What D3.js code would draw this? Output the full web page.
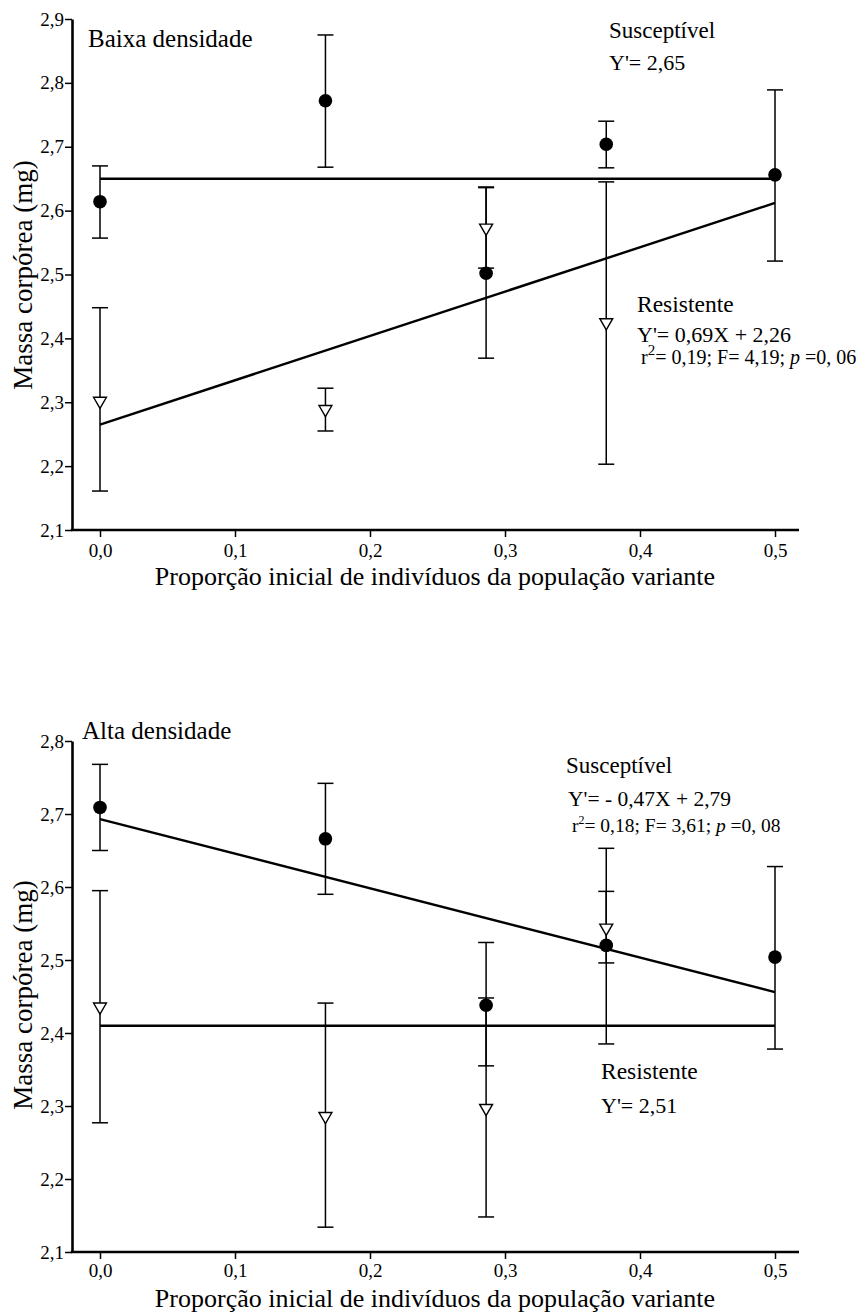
<!DOCTYPE html>
<html><head><meta charset="utf-8">
<script src="https://cdn.jsdelivr.net/npm/d3@7"></script>
<style>
body{margin:0;background:#fff}
svg{display:block}
text{font-family:"Liberation Serif","Times New Roman",serif;fill:#000}
</style>
</head><body>
<svg id="chart" width="865" height="1316" font-family="Liberation Serif"></svg>
<script>
// ---------- data ----------
const xValues = [0, 0.167, 0.286, 0.375, 0.5];
const xTicks = [0, 0.1, 0.2, 0.3, 0.4, 0.5];
const xTickLabels = ["0,0", "0,1", "0,2", "0,3", "0,4", "0,5"];
const xTitle = "Proporção inicial de indivíduos da população variante";
const yTitle = "Massa corpórea (mg)";

// Baixa densidade
const yTicksBaixa = [2.1, 2.2, 2.3, 2.4, 2.5, 2.6, 2.7, 2.8, 2.9];
const yTickLabelsBaixa = ["2,1", "2,2", "2,3", "2,4", "2,5", "2,6", "2,7", "2,8", "2,9"];
const baixaSusMean = [2.614, 2.772, 2.502, 2.704, 2.656];
const baixaSusLow  = [2.557, 2.668, 2.369, 2.667, 2.521];
const baixaSusHigh = [2.670, 2.875, 2.636, 2.740, 2.789];
const baixaResX    = [0, 0.167, 0.286, 0.375];
const baixaResMean = [2.302, 2.289, 2.573, 2.425];
const baixaResLow  = [2.161, 2.255, 2.510, 2.203];
const baixaResHigh = [2.448, 2.322, 2.637, 2.645];
const baixaSusFit  = [2.65, 2.65];     // at x = 0 and 0.5
const baixaResFit  = [2.265, 2.612];

// Alta densidade
const yTicksAlta = [2.1, 2.2, 2.3, 2.4, 2.5, 2.6, 2.7, 2.8];
const yTickLabelsAlta = ["2,1", "2,2", "2,3", "2,4", "2,5", "2,6", "2,7", "2,8"];
const altaSusMean = [2.709, 2.666, 2.438, 2.520, 2.504];
const altaSusLow  = [2.650, 2.590, 2.355, 2.385, 2.378];
const altaSusHigh = [2.768, 2.742, 2.524, 2.653, 2.628];
const altaResX    = [0, 0.167, 0.286, 0.375];
const altaResMean = [2.436, 2.286, 2.297, 2.544];
const altaResLow  = [2.277, 2.134, 2.148, 2.496];
const altaResHigh = [2.595, 2.441, 2.448, 2.594];
const altaSusFit  = [2.693, 2.456];
const altaResFit  = [2.41, 2.41];
const fitX = [0, 0.5];

// ---------- drawing ----------
const FONT = "Liberation Serif";
const svg = d3.select("#chart");
svg.append("rect").attr("width", 865).attr("height", 1316).attr("fill", "#fff");

const x = d3.scaleLinear().domain([0, 0.5]).range([100, 775]);
const axisX = 72, axisXEnd = 799;

function panel(cfg) {
  const y = d3.scaleLinear().domain(cfg.yDomain).range(cfg.yRange);
  const g = svg.append("g");
  const yBase = cfg.yRange[0];

  // y axis
  const ya = g.append("g").attr("transform", `translate(${axisX},0)`)
    .call(d3.axisLeft(y).tickValues(cfg.yTicks).tickFormat((d, i) => cfg.yLabels[i])
      .tickSize(7).tickPadding(1).tickSizeOuter(0));
  ya.attr("font-family", FONT);
  ya.select(".domain").attr("stroke-width", 2.6).attr("stroke", "#000");
  ya.selectAll(".tick line").attr("stroke-width", 1.5).attr("stroke", "#000");
  ya.selectAll(".tick text").attr("font-size", 19).attr("font-family", FONT).attr("fill", "#000");

  // x axis
  const xa = g.append("g").attr("transform", `translate(0,${yBase})`)
    .call(d3.axisBottom(x).tickValues(xTicks).tickFormat((d, i) => xTickLabels[i])
      .tickSize(7).tickPadding(cfg.xPad).tickSizeOuter(0));
  xa.attr("font-family", FONT);
  xa.select(".domain").remove();
  xa.selectAll(".tick line").attr("stroke-width", 1.5).attr("stroke", "#000");
  xa.selectAll(".tick text").attr("font-size", 19).attr("font-family", FONT).attr("fill", "#000");
  g.append("line").attr("x1", axisX - 1.3).attr("x2", axisXEnd)
    .attr("y1", yBase).attr("y2", yBase).attr("stroke", "#000").attr("stroke-width", 2.6);

  // titles
  g.append("text").attr("x", 435).attr("y", cfg.xTitleY).attr("text-anchor", "middle")
    .attr("font-family", FONT).attr("font-size", 26).text(xTitle);
  g.append("text").attr("transform", `translate(32,${cfg.yTitleC}) rotate(-90)`)
    .attr("text-anchor", "middle").attr("font-family", FONT).attr("font-size", 27).text(yTitle);

  // fitted lines
  const line = d3.line().x(d => x(d[0])).y(d => y(d[1]));
  [cfg.susFit, cfg.resFit].forEach(f => {
    g.append("path").attr("d", line(fitX.map((xx, i) => [xx, f[i]])))
      .attr("fill", "none").attr("stroke", "#000").attr("stroke-width", 2.4);
  });

  // error bars
  const cap = 8;
  function errBars(xs, lo, hi) {
    const eg = g.append("g").attr("stroke", "#000").attr("stroke-width", 1.5);
    xs.forEach((xx, i) => {
      eg.append("line").attr("x1", x(xx)).attr("x2", x(xx)).attr("y1", y(lo[i])).attr("y2", y(hi[i]));
      eg.append("line").attr("x1", x(xx) - cap).attr("x2", x(xx) + cap).attr("y1", y(lo[i])).attr("y2", y(lo[i]));
      eg.append("line").attr("x1", x(xx) - cap).attr("x2", x(xx) + cap).attr("y1", y(hi[i])).attr("y2", y(hi[i]));
    });
  }
  errBars(cfg.resX, cfg.resLow, cfg.resHigh);
  errBars(xValues, cfg.susLow, cfg.susHigh);

  // resistant: open down triangles
  const tri = d3.symbol().type(d3.symbolTriangle).size(72);
  g.append("g").selectAll("path").data(cfg.resX).join("path")
    .attr("d", tri)
    .attr("transform", (d, i) => `translate(${x(d)},${y(cfg.resMean[i])}) rotate(180)`)
    .attr("fill", "#fff").attr("stroke", "#000").attr("stroke-width", 1.4);

  // susceptible: filled circles
  g.append("g").selectAll("circle").data(xValues).join("circle")
    .attr("cx", d => x(d)).attr("cy", (d, i) => y(cfg.susMean[i])).attr("r", 6.8)
    .attr("fill", "#000");

  return g;
}

const gTop = panel({
  yDomain: [2.1, 2.9], yRange: [530, 19], yTicks: yTicksBaixa, yLabels: yTickLabelsBaixa,
  xPad: 7, xTitleY: 585, yTitleC: 275,
  susMean: baixaSusMean, susLow: baixaSusLow, susHigh: baixaSusHigh,
  resX: baixaResX, resMean: baixaResMean, resLow: baixaResLow, resHigh: baixaResHigh,
  susFit: baixaSusFit, resFit: baixaResFit
});
const gBot = panel({
  yDomain: [2.1, 2.8], yRange: [1252, 741], yTicks: yTicksAlta, yLabels: yTickLabelsAlta,
  xPad: 4.5, xTitleY: 1307, yTitleC: 995,
  susMean: altaSusMean, susLow: altaSusLow, susHigh: altaSusHigh,
  resX: altaResX, resMean: altaResMean, resLow: altaResLow, resHigh: altaResHigh,
  susFit: altaSusFit, resFit: altaResFit
});

// ---------- annotations ----------
function label(g, x0, y0, size, txt) {
  return g.append("text").attr("x", x0).attr("y", y0).attr("font-family", FONT)
    .attr("font-size", size).text(txt);
}
label(gTop, 88, 47, 25, "Baixa densidade");
label(gTop, 609, 38, 23, "Susceptível");
label(gTop, 609, 70, 22, "Y'= 2,65");
label(gTop, 637, 312, 23.5, "Resistente");
label(gTop, 637, 342, 22, "Y'= 0,69X + 2,26");
{
  const t = gTop.append("text").attr("x", 641).attr("y", 364).attr("font-family", FONT).attr("font-size", 20);
  t.append("tspan").text("r");
  t.append("tspan").attr("dy", -9).attr("font-size", 15).text("2");
  t.append("tspan").attr("dy", 9).text("= 0,19; F= 4,19; ");
  t.append("tspan").attr("font-style", "italic").text("p");
  t.append("tspan").text(" =0, 06");
}

label(gBot, 82, 739, 25, "Alta densidade");
label(gBot, 566, 773, 23, "Susceptível");
label(gBot, 568, 806, 21.5, "Y'= - 0,47X + 2,79");
{
  const t = gBot.append("text").attr("x", 572).attr("y", 832).attr("font-family", FONT).attr("font-size", 19.5);
  t.append("tspan").text("r");
  t.append("tspan").attr("dy", -8).attr("font-size", 12).text("2");
  t.append("tspan").attr("dy", 8).text("= 0,18; F= 3,61; ");
  t.append("tspan").attr("font-style", "italic").text("p");
  t.append("tspan").text(" =0, 08");
}
label(gBot, 601, 1079, 23.5, "Resistente");
label(gBot, 601, 1113, 22, "Y'= 2,51");
</script>
</body></html>
